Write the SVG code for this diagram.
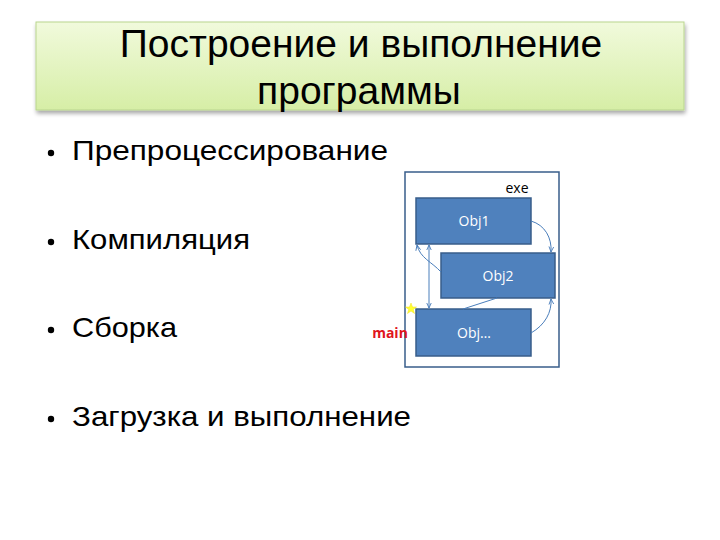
<svg xmlns="http://www.w3.org/2000/svg" width="720" height="540" viewBox="0 0 720 540">
<defs>
<linearGradient id="tg" x1="0" y1="0" x2="0" y2="1">
<stop offset="0" stop-color="#f1fadc"/>
<stop offset="1" stop-color="#d6eea6"/>
</linearGradient>
<filter id="sh" x="-5%" y="-20%" width="110%" height="150%">
<feGaussianBlur in="SourceAlpha" stdDeviation="2"/>
<feOffset dx="1" dy="3"/>
<feComponentTransfer><feFuncA type="linear" slope="0.35"/></feComponentTransfer>
<feMerge><feMergeNode/><feMergeNode in="SourceGraphic"/></feMerge>
</filter>
<marker id="ah" viewBox="0 0 10 10" refX="9" refY="5" markerWidth="6" markerHeight="6" orient="auto-start-reverse">
<path d="M0,1 L9,5 L0,9" fill="none" stroke="#4a7ebb" stroke-width="1.5"/>
</marker>
</defs>
<style>
.t{font-family:"Liberation Sans",Arial,sans-serif;fill:#000}
.title{font-size:39px;text-anchor:middle}
.b{font-size:28px}
.obj{fill:#4f81bd;stroke:#385d8a;stroke-width:1.5}
.ot{font-family:"Open Sans","Liberation Sans",sans-serif;font-size:14px;fill:#fff;text-anchor:middle}
.c{fill:none;stroke:#4a7ebb;stroke-width:1}
</style>
<rect width="720" height="540" fill="#fff"/>
<g id="title">
<rect x="36" y="22" width="648" height="88" fill="url(#tg)" stroke="#b9d58e" stroke-width="1" filter="url(#sh)"/>
<text class="t title" x="361" y="57">Построение и выполнение</text>
<text class="t title" x="359" y="104">программы</text>
</g>
<g id="bullets">
<circle cx="51" cy="153" r="3.2"/>
<text class="t b" x="72" y="160" textLength="316" lengthAdjust="spacingAndGlyphs">Препроцессирование</text>
<circle cx="51" cy="242" r="3.2"/>
<text class="t b" x="72" y="249" textLength="178" lengthAdjust="spacingAndGlyphs">Компиляция</text>
<circle cx="51" cy="330" r="3.2"/>
<text class="t b" x="72" y="337" textLength="105" lengthAdjust="spacingAndGlyphs">Сборка</text>
<circle cx="51" cy="419" r="3.2"/>
<text class="t b" x="72" y="426" textLength="339" lengthAdjust="spacingAndGlyphs">Загрузка и выполнение</text>
</g>
<g id="exe">
<rect x="405" y="172" width="154" height="195" fill="#fff" stroke="#385d8a" stroke-width="1.5"/>
<text x="517" y="193" font-family="'Open Sans','Liberation Sans',sans-serif" font-size="14" text-anchor="middle">exe</text>
</g>
<g id="obj1">
<rect class="obj" x="416" y="198" width="115" height="46"/>
<text class="ot" x="474" y="226">Obj1</text>
</g>
<g id="obj2">
<rect class="obj" x="441" y="253" width="114" height="45"/>
<text class="ot" x="498" y="281">Obj2</text>
</g>
<g id="objn">
<rect class="obj" x="416" y="309" width="115" height="47"/>
<text class="ot" x="474" y="338">Obj…</text>
</g>
<g id="main">
<polygon points="411,303 412.5,307 416.5,307 413.3,309.5 414.5,313.5 411,311 407.5,313.5 408.7,309.5 405.5,307 409.5,307" fill="#ffff33" stroke="#f0e020" stroke-width="0.5"/>
<text x="390" y="338" font-family="'Open Sans','Liberation Sans',sans-serif" font-size="14" font-weight="bold" fill="#e0161c" text-anchor="middle">main</text>
</g>
<g id="connectors">
<path class="c" d="M531,221 C545,225 552,238 551,252" marker-end="url(#ah)"/>
<path class="c" d="M531,333 C545,325 552,312 551,299" marker-end="url(#ah)"/>
<path class="c" d="M441,272 C432,262 420,258 417,245" marker-end="url(#ah)"/>
<path class="c" d="M429,245 L429,308" marker-start="url(#ah)" marker-end="url(#ah)"/>
<path class="c" d="M463,309 L497,298" stroke="#6f94c8"/>
</g>
</svg>
